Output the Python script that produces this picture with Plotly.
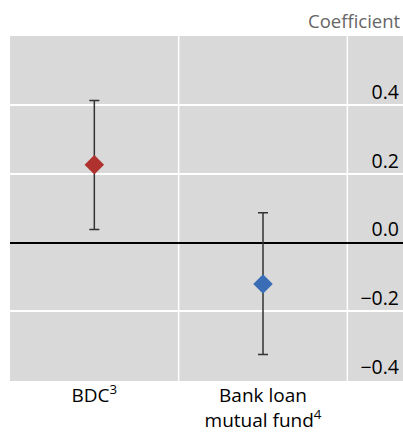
import plotly.graph_objects as go

categories = ["BDC<sup>3</sup>", "Bank loan<br>mutual fund<sup>4</sup>"]
coef = [0.226, -0.12]
upper = [0.413, 0.087]
lower = [0.038, -0.325]
colors = ["#B0322E", "#3A6DB5"]
yticks = [-0.4, -0.2, 0.0, 0.2, 0.4]
yticklabels = ["\u22120.4", "\u22120.2", "0.0", "0.2", "0.4"]

xs = list(range(len(categories)))
fig = go.Figure()
fig.add_trace(go.Scatter(
    x=xs, y=coef, mode="markers",
    marker=dict(symbol="diamond", size=15, color=colors),
    error_y=dict(type="data", symmetric=False,
                 array=[u - c for u, c in zip(upper, coef)],
                 arrayminus=[c - l for c, l in zip(coef, lower)],
                 color="#333333", thickness=1.5, width=5),
    showlegend=False,
))

fig.update_layout(
    width=403, height=432,
    margin=dict(l=10, r=0, t=36, b=51),
    paper_bgcolor="white", plot_bgcolor="#D9D9D9",
    font=dict(family="Open Sans, Noto Sans, sans-serif", size=19.5, color="black"),
    xaxis=dict(range=[-0.5, 1.83], tickvals=xs, ticktext=categories, automargin=False,
               showgrid=False, zeroline=False, showline=False, ticks="",
               tickfont=dict(size=19, color="black"), ticklabelstandoff=1),
    yaxis=dict(range=[-0.402, 0.6], side="right", tickvals=yticks, ticktext=yticklabels,
               automargin=False,
               ticklabelposition="inside", ticklabelshift=-13, ticklabelstandoff=1,
               tickfont=dict(size=19.5, color="black"),
               showgrid=True, gridcolor="white", gridwidth=1.5,
               zeroline=True, zerolinecolor="black", zerolinewidth=1.5,
               ticks="", showline=False),
    shapes=[
        dict(type="line", xref="x", yref="paper", x0=v, x1=v, y0=0, y1=1,
             line=dict(color="white", width=1.5), layer="below")
        for v in [0.5, 1.5]
    ],
    annotations=[dict(text="Coefficient", xref="paper", yref="paper", x=1, y=1,
                      xanchor="right", yanchor="bottom", yshift=1, xshift=0, showarrow=False,
                      font=dict(size=18.5, color="#666666"))],
)

fig.write_html("out.html")
